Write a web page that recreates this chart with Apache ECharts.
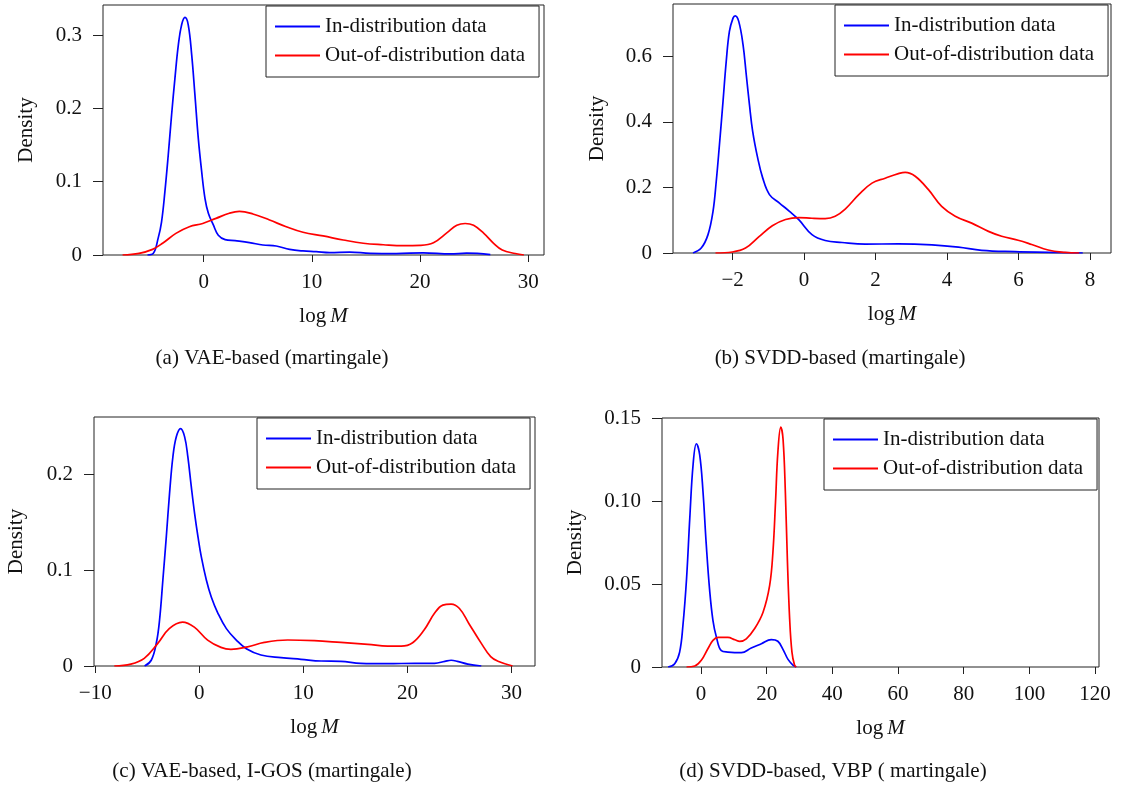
<!DOCTYPE html>
<html>
<head>
<meta charset="utf-8">
<script src="https://cdn.jsdelivr.net/npm/echarts@6/dist/echarts.min.js"></script>
<style>
  html, body { margin: 0; background: #fff; }
  #chart { width: 1124px; height: 788px; }
</style>
</head>
<body>
<div id="chart"></div>
<script>
const seriesNames = ["In-distribution data", "Out-of-distribution data"];
const captions = [
  "(a) VAE-based (martingale)",
  "(b) SVDD-based (martingale)",
  "(c) VAE-based, I-GOS (martingale)",
  "(d) SVDD-based, VBP ( martingale)",
];

// (a) VAE-based
const aInX = [-5.2, -4.67, -4.21, -3.9, -3.59, -3.28, -2.97, -2.66, -2.35, -2.04, -1.73, -1.43, -1.11, -0.81, -0.5, -0.19, 0.12, 0.43, 0.89, 1.35, 1.98, 2.9, 4.23, 5.47, 6.7, 7.94, 9.18, 10.4, 11.65, 13.5, 15.4, 17.8, 20.3, 22.8, 24.3, 26.5];
const aInY = [0, 0.002, 0.023, 0.045, 0.086, 0.136, 0.191, 0.241, 0.286, 0.314, 0.324, 0.314, 0.273, 0.218, 0.159, 0.114, 0.077, 0.057, 0.041, 0.027, 0.021, 0.0195, 0.017, 0.0136, 0.0123, 0.0077, 0.0055, 0.0045, 0.0032, 0.004, 0.0023, 0.002, 0.003, 0.0015, 0.0025, 0.0005];
const aOutX = [-7.5, -5.97, -4.73, -3.8, -2.57, -1.33, -0.09, 1.14, 2.37, 3.3, 4.55, 6.09, 7.63, 9.18, 11.04, 12.9, 14.75, 16.6, 18.46, 20.0, 21.24, 22.5, 23.4, 24.17, 24.95, 25.9, 26.8, 27.6, 28.8, 29.6];
const aOutY = [0, 0.0023, 0.0077, 0.016, 0.0295, 0.0386, 0.043, 0.05, 0.057, 0.0595, 0.056, 0.0477, 0.0386, 0.031, 0.026, 0.0205, 0.016, 0.014, 0.0127, 0.0132, 0.0168, 0.0305, 0.0405, 0.043, 0.0405, 0.0295, 0.016, 0.0068, 0.002, 0];
const aXTicks = [0, 10, 20, 30];
const aYTicks = [0, 0.1, 0.2, 0.3];
const aYLabels = ["0", "0.1", "0.2", "0.3"];

// (b) SVDD-based
const bInX = [-3.11, -2.88, -2.69, -2.55, -2.46, -2.37, -2.27, -2.18, -2.09, -1.99, -1.93, -1.83, -1.71, -1.62, -1.53, -1.44, -1.3, -1.16, -0.97, -0.69, -0.41, -0.15, 0.22, 0.59, 1.06, 1.71, 2.64, 3.58, 4.32, 4.97, 5.9, 6.83, 7.8];
const bInY = [0, 0.015, 0.056, 0.127, 0.218, 0.33, 0.462, 0.584, 0.676, 0.716, 0.723, 0.706, 0.635, 0.544, 0.452, 0.371, 0.29, 0.229, 0.178, 0.152, 0.127, 0.1015, 0.056, 0.038, 0.032, 0.027, 0.028, 0.025, 0.018, 0.008, 0.004, 0.002, 0];
const bOutX = [-2.48, -2.01, -1.64, -1.27, -0.89, -0.52, -0.15, 0.22, 0.59, 0.87, 1.15, 1.53, 1.9, 2.27, 2.64, 2.83, 3.11, 3.48, 3.85, 4.23, 4.69, 5.16, 5.53, 5.99, 6.37, 6.83, 7.3, 7.7];
const bOutY = [0, 0.003, 0.015, 0.049, 0.083, 0.102, 0.108, 0.106, 0.105, 0.112, 0.134, 0.178, 0.213, 0.228, 0.242, 0.246, 0.234, 0.193, 0.142, 0.112, 0.091, 0.066, 0.051, 0.039, 0.026, 0.009, 0.002, 0];
const bXTicks = [-2, 0, 2, 4, 6, 8];
const bYTicks = [0, 0.2, 0.4, 0.6];
const bYLabels = ["0", "0.2", "0.4", "0.6"];

// (c) VAE-based, I-GOS
const cInX = [-5.26, -4.62, -4.13, -3.82, -3.5, -3.17, -2.86, -2.54, -2.21, -1.8, -1.41, -1.1, -0.77, -0.45, -0.13, 0.19, 0.67, 1.15, 1.79, 2.6, 3.56, 4.52, 5.92, 7.85, 9.77, 11.7, 13.6, 15.5, 18.1, 20.7, 22.6, 23.6, 24.2, 24.8, 25.8, 27.1];
const cInY = [0, 0.006, 0.024, 0.048, 0.09, 0.135, 0.18, 0.218, 0.239, 0.2476, 0.239, 0.218, 0.187, 0.159, 0.135, 0.114, 0.09, 0.072, 0.055, 0.039, 0.027, 0.018, 0.0115, 0.0087, 0.007, 0.0052, 0.0049, 0.0028, 0.0024, 0.0028, 0.0028, 0.0049, 0.006, 0.0049, 0.002, 0];
const cOutX = [-8.17, -6.58, -5.29, -4.01, -2.89, -1.61, -0.48, 0.8, 2.08, 3.04, 4.64, 6.25, 8.49, 11.06, 13.6, 16.2, 18.1, 19.4, 20.5, 21.6, 22.6, 23.4, 24.2, 25.0, 25.9, 27.1, 28.0, 28.7, 30.1];
const cOutY = [0, 0.002, 0.008, 0.0233, 0.039, 0.0458, 0.0406, 0.027, 0.0194, 0.0174, 0.02, 0.0246, 0.0271, 0.0264, 0.0246, 0.0226, 0.0208, 0.0208, 0.0243, 0.0375, 0.0549, 0.0635, 0.0646, 0.06, 0.0444, 0.0236, 0.0097, 0.005, 0];
const cXTicks = [-10, 0, 10, 20, 30];
const cYTicks = [0, 0.1, 0.2];
const cYLabels = ["0", "0.1", "0.2"];

// (d) SVDD-based, VBP
const dInX = [-10.0, -8.0, -6.5, -5.5, -4.4, -3.4, -2.4, -1.4, -0.4, 0.6, 1.6, 2.65, 3.65, 4.7, 6.2, 8.2, 12.3, 15.3, 18.4, 21.4, 23.4, 25.0, 26.5, 28.0, 29.0];
const dInY = [0, 0.002, 0.009, 0.025, 0.053, 0.09, 0.122, 0.1345, 0.128, 0.106, 0.074, 0.046, 0.028, 0.018, 0.0098, 0.009, 0.0086, 0.0114, 0.014, 0.0165, 0.0155, 0.0105, 0.0046, 0.0012, 0];
const dOutX = [-4.4, -1.9, 0.1, 2.1, 3.65, 5.2, 8.2, 10.3, 11.8, 13.8, 16.3, 18.9, 20.9, 21.9, 22.7, 23.4, 24.3, 25.0, 25.7, 26.3, 27.0, 27.7, 28.5, 29.0];
const dOutY = [0, 0.0006, 0.004, 0.011, 0.016, 0.0178, 0.0178, 0.0164, 0.0154, 0.017, 0.023, 0.033, 0.049, 0.069, 0.0995, 0.129, 0.1445, 0.137, 0.105, 0.065, 0.029, 0.009, 0.001, 0];
const dXTicks = [0, 20, 40, 60, 80, 100, 120];
const dYTicks = [0, 0.05, 0.1, 0.15];
const dYLabels = ["0", "0.05", "0.10", "0.15"];

const FONT = "'Liberation Serif', 'DejaVu Serif', serif";
const INK = "#111";
const BLUE = "#0000ff";
const RED = "#ff0000";

const panels = [
  { inX: aInX, inY: aInY, outX: aOutX, outY: aOutY, xTicks: aXTicks, yTicks: aYTicks, yLabels: aYLabels,
    xMin: -9.31, xMax: 31.46, yMax: 0.341,
    grid: { left: 103, top: 5, width: 441, height: 250 }, legend: { left: 266, top: 6 },
    caption: [272, 358], yNameGap: 66 },
  { inX: bInX, inY: bInY, outX: bOutX, outY: bOutY, xTicks: bXTicks, yTicks: bYTicks, yLabels: bYLabels,
    xMin: -3.67, xMax: 8.59, yMax: 0.759,
    grid: { left: 673, top: 4, width: 438, height: 249 }, legend: { left: 835, top: 5 },
    caption: [840, 358], yNameGap: 65 },
  { inX: cInX, inY: cInY, outX: cOutX, outY: cOutY, xTicks: cXTicks, yTicks: cYTicks, yLabels: cYLabels,
    xMin: -10.12, xMax: 32.26, yMax: 0.2597,
    grid: { left: 94, top: 417, width: 441, height: 249 }, legend: { left: 257, top: 418 },
    caption: [262, 771], yNameGap: 67 },
  { inX: dInX, inY: dInY, outX: dOutX, outY: dOutY, xTicks: dXTicks, yTicks: dYTicks, yLabels: dYLabels,
    xMin: -11.87, xMax: 121.2, yMax: 0.15,
    grid: { left: 662, top: 418, width: 437, height: 249 }, legend: { left: 824, top: 419 },
    caption: [833, 771], yNameGap: 76 },
];

const pairs = (xs, ys) => xs.map((x, i) => [x, ys[i]]);

const chart = echarts.init(document.getElementById("chart"), null, { renderer: "canvas" });

const grids = [];
const xAxes = [];
const yAxes = [];
const series = [];
const legends = [];
const captionTexts = [];

panels.forEach((p, k) => {
  grids.push({
    ...p.grid,
    show: true,
    borderColor: "#222",
    borderWidth: 1,
    backgroundColor: "transparent",
    containLabel: false,
  });

  xAxes.push({
    gridIndex: k,
    type: "value",
    min: p.xMin,
    max: p.xMax,
    axisLine: { show: false, onZero: false },
    axisTick: { show: true, length: 7, customValues: p.xTicks, lineStyle: { color: "#222", width: 1 } },
    axisLabel: {
      customValues: p.xTicks,
      margin: 17,
      fontFamily: FONT,
      fontSize: 21,
      color: INK,
      formatter: (v) => String(v).replace("-", "\u2212"),
    },
    splitLine: { show: false },
    name: "{a|log}{b|M}",
    nameLocation: "middle",
    nameGap: 51,
    nameTextStyle: {
      rich: {
        a: { fontFamily: FONT, fontSize: 21, color: INK, padding: [0, 4, 0, 0] },
        b: { fontFamily: FONT, fontSize: 21, color: INK, fontStyle: "italic" },
      },
    },
  });

  yAxes.push({
    gridIndex: k,
    type: "value",
    min: 0,
    max: p.yMax,
    axisLine: { show: false, onZero: false },
    axisTick: { show: true, length: 10, customValues: p.yTicks, lineStyle: { color: "#222", width: 1 } },
    axisLabel: {
      customValues: p.yTicks,
      margin: 21,
      fontFamily: FONT,
      fontSize: 21,
      color: INK,
      formatter: (v) => {
        const i = p.yTicks.findIndex((t) => Math.abs(t - v) < 1e-9);
        return i >= 0 ? p.yLabels[i] : "";
      },
    },
    splitLine: { show: false },
    name: "Density",
    nameLocation: "middle",
    nameGap: p.yNameGap,
    nameTextStyle: { fontFamily: FONT, fontSize: 21, color: INK },
  });

  [[p.inX, p.inY, BLUE, seriesNames[0]], [p.outX, p.outY, RED, seriesNames[1]]].forEach(([xs, ys, color, name]) => {
    series.push({
      name: name,
      type: "line",
      xAxisIndex: k,
      yAxisIndex: k,
      data: pairs(xs, ys),
      showSymbol: false,
      symbol: "none",
      smooth: 0.4,
      lineStyle: { color: color, width: 1.7 },
      itemStyle: { color: color },
      silent: true,
    });
  });

  legends.push({
    left: p.legend.left,
    top: p.legend.top,
    orient: "vertical",
    data: seriesNames,
    selectedMode: false,
    icon: "rect",
    itemWidth: 45,
    itemHeight: 1.8,
    itemGap: 8,
    padding: [10, 14, 11, 9],
    borderColor: "#222",
    borderWidth: 1,
    borderRadius: 0,
    backgroundColor: "#fff",
    textStyle: { fontFamily: FONT, fontSize: 21, color: INK, lineHeight: 20 },
  });

  captionTexts.push({
    type: "text",
    x: p.caption[0],
    y: p.caption[1],
    style: {
      text: captions[k],
      font: "21px " + FONT,
      fill: INK,
      align: "center",
      verticalAlign: "middle",
      textAlign: "center",
      textVerticalAlign: "middle",
    },
  });
});

chart.setOption({
  animation: false,
  backgroundColor: "#fff",
  grid: grids,
  xAxis: xAxes,
  yAxis: yAxes,
  legend: legends,
  series: series,
  graphic: captionTexts,
});

window.addEventListener("resize", () => chart.resize());
</script>
</body>
</html>
